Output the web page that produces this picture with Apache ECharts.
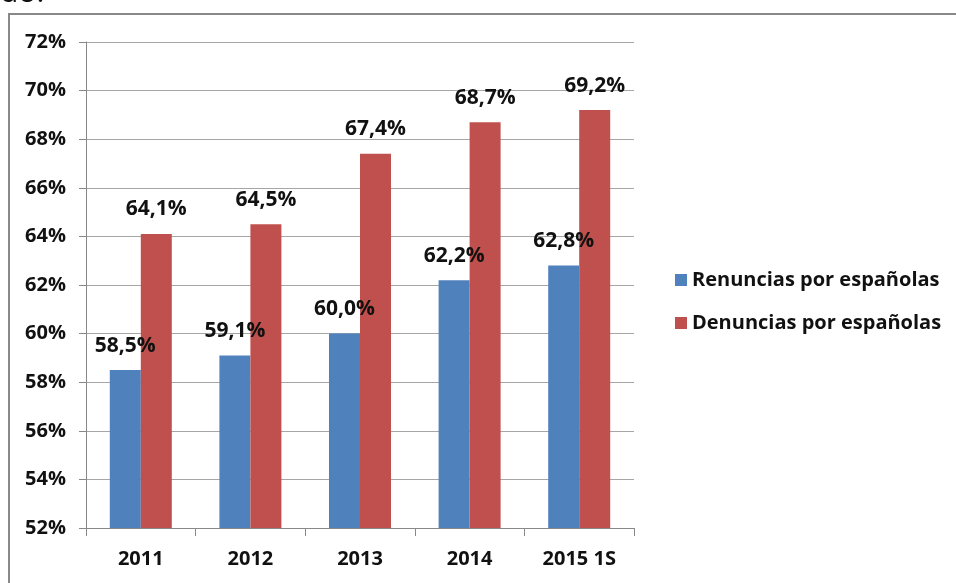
<!DOCTYPE html>
<html>
<head>
<meta charset="utf-8">
<script src="https://cdn.jsdelivr.net/npm/echarts@6/dist/echarts.min.js"></script>
<style>
html,body{margin:0;padding:0;background:#fff;}
#c{width:956px;height:583px;}
</style>
</head>
<body>
<div id="c"></div>
<script>
var categories = ['2011', '2012', '2013', '2014', '2015 1S'];
var renuncias = [58.5, 59.1, 60.0, 62.2, 62.8];
var denuncias = [64.1, 64.5, 67.4, 68.7, 69.2];
var seriesNames = ['Renuncias por españolas', 'Denuncias por españolas'];

var FONT = '"Open Sans", Lato, sans-serif';
function lbl(v) { return v.value.toFixed(1).replace('.', ',') + '%'; }

var chart = echarts.init(document.getElementById('c'));
chart.setOption({
  animation: false,
  backgroundColor: '#ffffff',
  graphic: [
    { type: 'rect', shape: { x: 9, y: 14, width: 1000, height: 700 },
      style: { fill: 'none', stroke: '#888888', lineWidth: 2 } },
    { type: 'text', left: 0, top: -22,
      style: { text: 'do:', font: '30px "Open Sans", sans-serif', fill: '#111' } }
  ],
  grid: { left: 86, top: 42, right: 322, bottom: 55, containLabel: false },
  legend: {
    orient: 'vertical', left: 670, top: 265,
    itemWidth: 12, itemHeight: 12, itemGap: 23, icon: 'rect',
    textStyle: { fontFamily: FONT, fontWeight: 'bold', fontSize: 20, color: '#111' },
    data: seriesNames
  },
  xAxis: {
    type: 'category', data: categories,
    axisLine: { lineStyle: { color: '#888888', width: 1 } },
    axisTick: { show: true, length: 8, lineStyle: { color: '#888888' } },
    axisLabel: { fontFamily: FONT, fontWeight: 'bold', fontSize: 20, color: '#111', margin: 21 }
  },
  yAxis: {
    type: 'value', min: 52, max: 72, interval: 2,
    axisLine: { show: true, lineStyle: { color: '#888888', width: 1 } },
    axisTick: { show: true, length: 7, lineStyle: { color: '#888888' } },
    splitLine: { lineStyle: { color: '#a6a6a6', width: 1 } },
    axisLabel: { formatter: '{value}%', fontFamily: FONT, fontWeight: 'bold', fontSize: 20, color: '#111', margin: 20 }
  },
  series: [
    { name: seriesNames[0], type: 'bar', data: renuncias, barWidth: 31, barGap: '0%',
      itemStyle: { color: '#4F81BD' },
      label: { show: true, position: 'top', distance: 14, formatter: lbl,
        fontFamily: FONT, fontWeight: 'bold', fontSize: 21, color: '#111' } },
    { name: seriesNames[1], type: 'bar', data: denuncias, barWidth: 31, barGap: '0%',
      itemStyle: { color: '#C0504D' },
      label: { show: true, position: 'top', distance: 14, formatter: lbl,
        fontFamily: FONT, fontWeight: 'bold', fontSize: 21, color: '#111' } }
  ]
});
</script>
</body>
</html>
